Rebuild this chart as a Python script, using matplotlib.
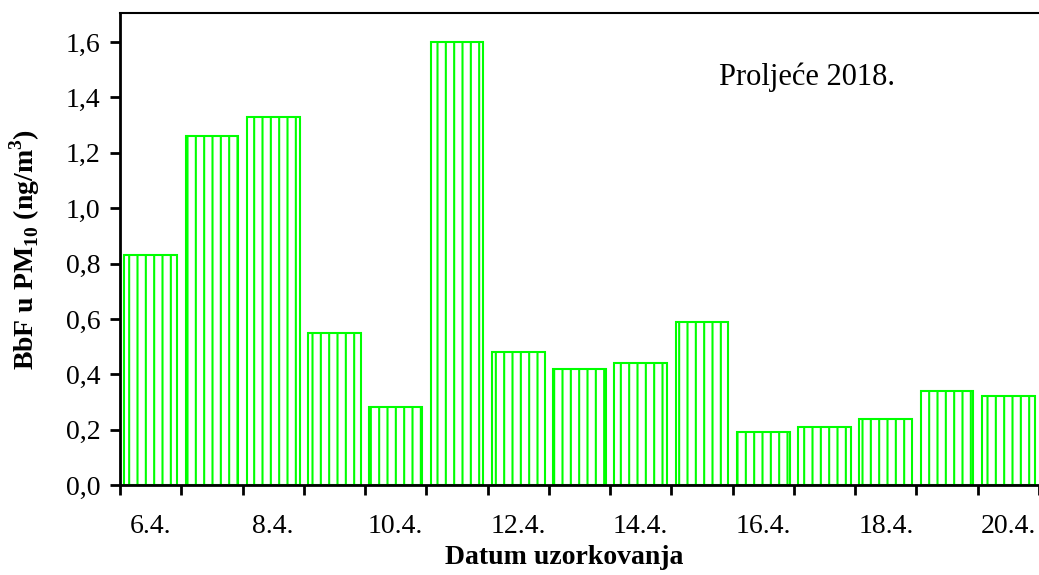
import numpy as np
import matplotlib.pyplot as plt

plt.rcParams['font.family'] = ['Liberation Serif', 'DejaVu Serif']
plt.rcParams['mathtext.fontset'] = 'custom'
plt.rcParams['mathtext.rm'] = 'Liberation Serif'
plt.rcParams['mathtext.bf'] = 'Liberation Serif:bold'
plt.rcParams['hatch.linewidth'] = 1.5

# datumi uzorkovanja i koncentracije BbF
dates = ["6.4.", "7.4.", "8.4.", "9.4.", "10.4.", "11.4.", "12.4.", "13.4.",
         "14.4.", "15.4.", "16.4.", "17.4.", "18.4.", "19.4.", "20.4."]
bbf = [0.83, 1.26, 1.33, 0.55, 0.28, 1.60, 0.48, 0.42,
       0.44, 0.59, 0.19, 0.21, 0.24, 0.34, 0.32]
yticks = [0.0, 0.2, 0.4, 0.6, 0.8, 1.0, 1.2, 1.4, 1.6]

fig = plt.figure(figsize=(10.39, 5.75), dpi=100)
ax = fig.add_axes([0.1155, 0.1565, 0.8845, 0.8209])

x = np.arange(len(dates))
ax.bar(x, bbf, width=0.86, color='white', edgecolor='#00ff00',
       hatch='||', linewidth=1.5)

ax.set_xlim(-0.5, 14.46)
ax.set_ylim(0, 1.705)

# oznake svaki drugi dan, crtice izmedju stupaca
ax.set_xticks(x[::2])
ax.set_xticklabels(dates[::2], fontsize=20)
ax.set_xticks(np.arange(-0.5, 15, 1), minor=True)
ax.tick_params(axis='x', which='major', length=0, pad=21)
ax.tick_params(axis='x', which='minor', length=7, width=2, direction='out')

ax.set_yticks(yticks)
ax.set_yticklabels([("%.1f" % v).replace('.', ',') for v in yticks], fontsize=20)
ax.tick_params(axis='y', length=7, width=2, direction='out', pad=7)

ax.spines['right'].set_visible(False)
ax.spines['left'].set_linewidth(2)
ax.spines['bottom'].set_linewidth(2)
ax.spines['top'].set_linewidth(1.5)

ax.set_ylabel(r"BbF u PM$_{\mathbf{10}}$ (ng/m$^{\mathbf{3}}$)", fontsize=20,
              fontweight='bold', labelpad=17)
ax.set_xlabel("Datum uzorkovanja", fontsize=20, fontweight='bold')
ax.xaxis.set_label_coords(0.483, -0.128)

ax.text(0.652, 0.848, "Proljeće 2018.", transform=ax.transAxes, fontsize=22)

plt.savefig("out.png", dpi=100)
